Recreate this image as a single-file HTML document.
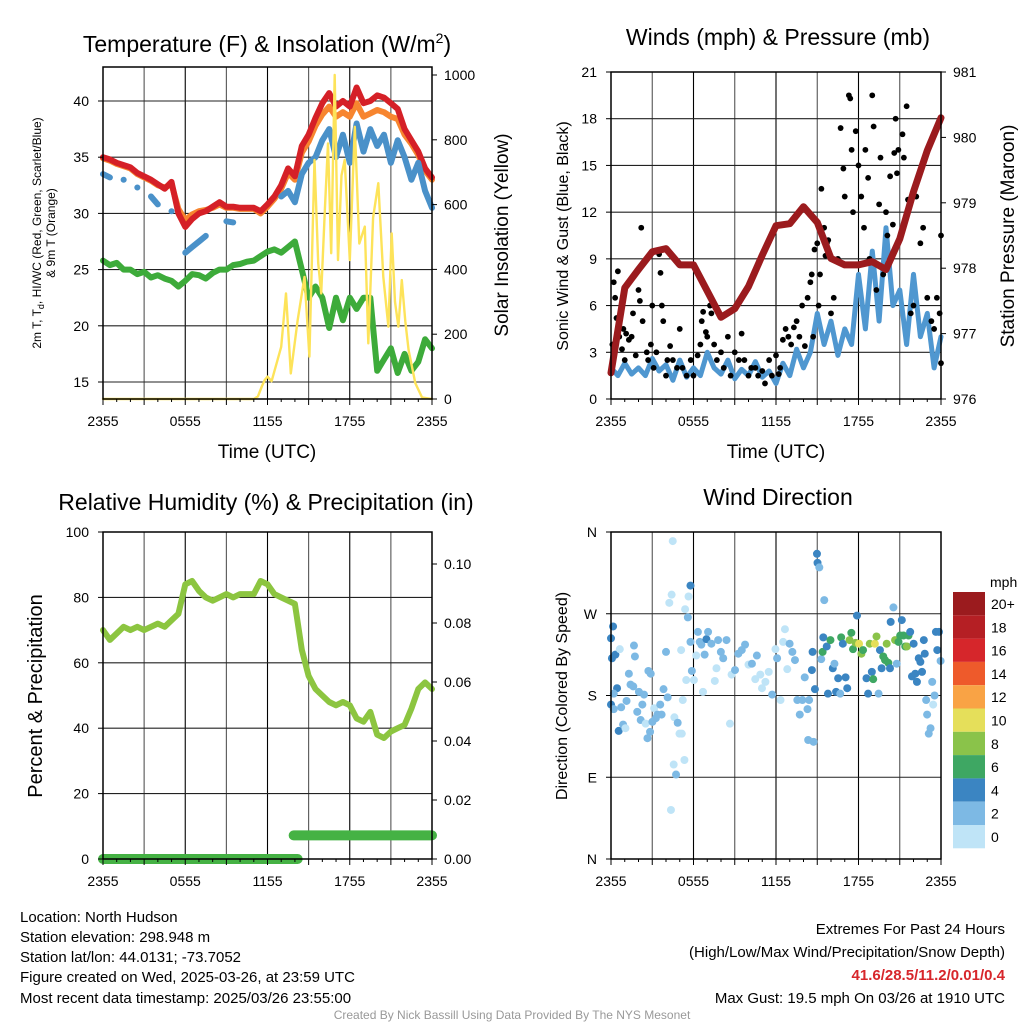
<!DOCTYPE html>
<html><head><meta charset="utf-8">
<style>
html,body{margin:0;padding:0;background:#fff;}
svg{display:block;font-family:"Liberation Sans",Arial,sans-serif;}
</style></head>
<body>
<svg id="chart" width="1024" height="1024" viewBox="0 0 1024 1024" xmlns="http://www.w3.org/2000/svg">
<rect x="0" y="0" width="1024" height="1024" fill="#fff"/>
<g id="layer-grid"></g>
<g id="layer-data"></g>
<g id="layer-axes"></g>

<text x="267" y="52" font-size="23" text-anchor="middle">Temperature (F) &amp; Insolation (W/m<tspan font-size="14" dy="-9">2</tspan><tspan dy="9">)</tspan></text>
<text x="778" y="45" font-size="23" text-anchor="middle">Winds (mph) &amp; Pressure (mb)</text>
<text x="266" y="510" font-size="23" text-anchor="middle">Relative Humidity (%) &amp; Precipitation (in)</text>
<text x="778" y="505" font-size="23" text-anchor="middle">Wind Direction</text>

<text transform="translate(41,233) rotate(-90)" font-size="12" text-anchor="middle">2m T, T<tspan font-size="9" dy="3">d</tspan><tspan dy="-3">, HI/WC (Red, Green, Scarlet/Blue)</tspan></text>
<text transform="translate(55,233) rotate(-90)" font-size="12" text-anchor="middle">&amp; 9m T (Orange)</text>
<text transform="translate(508,235) rotate(-90)" font-size="19" text-anchor="middle">Solar Insolation (Yellow)</text>
<text x="267" y="458" font-size="19" text-anchor="middle">Time (UTC)</text>
<text transform="translate(568,236) rotate(-90)" font-size="16" text-anchor="middle">Sonic Wind &amp; Gust (Blue, Black)</text>
<text transform="translate(1014,236) rotate(-90)" font-size="19" text-anchor="middle">Station Pressure (Maroon)</text>
<text x="776" y="458" font-size="19" text-anchor="middle">Time (UTC)</text>
<text transform="translate(42,696) rotate(-90)" font-size="20" text-anchor="middle">Percent &amp; Precipitation</text>
<text transform="translate(567,696) rotate(-90)" font-size="16" text-anchor="middle">Direction (Colored By Speed)</text>

<text x="990" y="587" font-size="14" text-anchor="start">mph</text>

<g font-size="15">
<text x="20" y="922">Location: North Hudson</text>
<text x="20" y="942">Station elevation: 298.948 m</text>
<text x="20" y="962">Station lat/lon: 44.0131; -73.7052</text>
<text x="20" y="982">Figure created on Wed, 2025-03-26, at 23:59 UTC</text>
<text x="20" y="1003">Most recent data timestamp: 2025/03/26 23:55:00</text>
</g>
<g font-size="15" text-anchor="end">
<text x="1005" y="934">Extremes For Past 24 Hours</text>
<text x="1005" y="957">(High/Low/Max Wind/Precipitation/Snow Depth)</text>
<text x="1005" y="980" fill="#d7262b" font-weight="bold">41.6/28.5/11.2/0.01/0.4</text>
<text x="1005" y="1003">Max Gust: 19.5 mph On 03/26 at 1910 UTC</text>
</g>
<text x="512" y="1019" font-size="12" fill="#999" text-anchor="middle">Created By Nick Bassill Using Data Provided By The NYS Mesonet</text>
</svg>

<script>
// ===== DATA =====
const halfHourTimes = [0,0.5,1,1.5,2,2.5,3,3.5,4,4.5,5,5.5,6,6.5,7,7.5,8,8.5,9,9.5,10,10.5,11,11.5,12,12.5,13,13.5,14,14.5,15,15.5,16,16.5,17,17.5,18,18.5,19,19.5,20,20.5,21,21.5,22,22.5,23,23.5,24];
const tempRed = [35.0,34.8,34.5,34.3,34.1,33.6,33.3,33.0,32.6,32.2,32.8,30.0,28.8,29.5,30.0,30.2,30.6,31.0,30.6,30.6,30.5,30.5,30.5,30.2,30.8,31.5,32.5,34.0,33.3,36.0,37.0,38.5,39.8,40.7,39.5,40.0,39.5,41.2,39.8,40.0,40.5,40.3,39.8,39.3,37.5,36.5,35.5,34.0,33.2];
const tempOrange = [34.9,34.7,34.4,34.2,34.0,33.5,33.2,32.9,32.5,32.3,32.6,30.4,29.4,29.9,30.2,30.3,30.5,30.8,30.5,30.5,30.4,30.4,30.4,30.0,30.6,31.3,32.2,33.6,33.0,35.4,36.4,37.8,38.8,39.5,38.6,39.0,38.6,39.8,38.6,38.9,39.2,39.0,38.6,38.4,37.0,36.2,35.2,33.8,33.0];
const tempBlue = [33.5,33.2,null,33.0,null,32.3,null,31.5,30.8,null,30.2,null,26.5,27.0,27.5,28.0,null,null,29.3,29.2,null,null,null,null,null,null,31.5,32.0,31.0,33.5,34.5,35.0,36.5,37.5,35.0,37.0,34.5,38.0,35.5,37.5,36.0,37.0,34.5,36.5,35.0,33.0,34.5,32.0,30.5];
const dewGreen = [25.8,25.4,25.6,25.0,25.0,24.6,24.8,24.3,24.5,24.2,24.0,23.5,24.0,24.6,24.5,24.2,24.7,25.0,25.0,25.4,25.5,25.7,25.8,26.2,26.6,26.8,26.5,27.0,27.5,25.0,22.5,23.5,22.5,19.8,22.5,20.5,22.5,21.5,22.5,22.5,16.0,17.0,18.0,15.8,17.5,16.0,16.8,18.8,18.0];
const solarTimes = [0,11.0,11.3,11.6,11.8,12.0,12.3,12.6,13.0,13.35,13.7,14.2,14.7,15.06,15.43,15.7,15.92,16.2,16.41,16.65,16.9,17.14,17.4,17.63,18.0,18.37,18.7,19.1,19.35,19.7,20.08,20.45,20.82,21.06,21.3,21.55,21.8,22.05,22.29,22.78,23.27,24];
const solarVals =  [0,0,8,40,59,69,55,100,161,326,79,244,377,131,738,420,326,600,789,450,1000,429,690,738,429,840,480,532,172,560,666,377,223,511,300,223,367,240,151,49,5,0];
const windHalfHour = [2.0,1.5,2.3,1.6,2.0,1.5,2.6,1.8,2.2,1.2,2.5,1.4,2.0,1.5,3.0,2.0,1.6,2.5,1.3,1.9,1.5,2.4,1.4,1.8,1.0,2.3,1.5,3.2,2.0,3.0,5.5,3.5,5.0,2.8,4.5,3.5,8.0,4.5,9.5,5.0,11.0,6.0,7.0,3.5,8.0,4.0,5.5,2.0,4.0];
const hourlyTimes = [0,1,2,3,4,5,6,7,8,9,10,11,12,13,14,15,16,17,18,19,20,21,22,23,24];
const pressureHourly = [976.4,977.7,977.98,978.25,978.3,978.05,978.05,977.65,977.25,977.38,977.72,978.2,978.65,978.68,978.94,978.7,978.15,978.05,978.05,978.1,977.98,978.45,979.17,979.8,980.3];
const gustTimes = [0.1,0.2,0.3,0.4,0.5,0.6,0.8,0.9,1.0,1.1,1.3,1.5,1.6,1.8,2.0,2.1,2.2,2.3,2.6,2.7,2.9,3.0,3.1,3.3,3.5,3.6,3.7,3.8,4.0,4.1,4.3,4.5,4.8,5.0,5.2,5.5,5.8,6.0,6.3,6.5,6.6,6.7,6.9,7.0,7.2,7.3,7.5,7.7,8.0,8.2,8.5,8.7,9.0,9.3,9.5,9.7,10.0,10.2,10.5,10.7,11.0,11.2,11.5,11.7,12.0,12.2,12.3,12.5,12.7,12.9,13.1,13.3,13.5,13.7,13.9,14.1,14.3,14.5,14.6,14.7,14.8,15.0,15.1,15.2,15.3,15.5,15.6,15.7,15.8,16.0,16.2,16.5,16.7,16.9,17.0,17.3,17.4,17.5,17.6,17.8,18.0,18.2,18.4,18.5,18.7,18.8,19.0,19.1,19.3,19.5,19.6,19.8,20.0,20.1,20.3,20.5,20.6,20.7,20.8,20.9,21.2,21.3,21.5,21.6,21.8,22.0,22.2,22.5,22.7,23.0,23.3,23.5,23.7,23.9,24.0,24.0];
const gustVals = [3.5,7.5,6.5,5.2,8.2,4.0,3.2,4.5,2.5,4.2,3.8,4.0,5.5,2.8,7.0,6.3,11.0,5.0,3.0,2.5,3.5,6.0,2.0,3.0,9.3,8.1,6.0,5.0,1.5,2.5,3.4,2.5,2.0,4.5,2.0,1.5,2.5,1.5,2.8,3.5,5.0,5.6,4.3,4.0,6.0,5.5,3.5,2.5,3.0,2.0,4.0,1.5,3.0,2.5,4.2,2.5,1.5,2.0,2.0,1.5,1.8,1.0,2.5,1.5,2.8,1.6,2.0,3.8,4.5,4.0,3.5,4.6,5.0,4.0,6.0,3.4,6.5,7.5,8.0,4.0,9.6,10.0,6.0,8.0,13.5,11.0,9.2,10.0,10.2,5.5,6.5,9.0,17.4,14.8,13.0,19.5,19.3,16.0,12.0,17.2,15.0,13.0,11.0,16.0,14.2,9.0,19.5,17.5,7.0,12.5,15.5,8.0,12.0,10.5,14.3,11.2,15.8,18.0,14.5,16.0,17.0,15.5,18.8,12.8,5.5,6.0,13.0,10.0,11.0,6.5,5.0,4.5,6.5,5.5,10.5,2.3];
const dirTimes = [0.15,0.0,0.07,0.32,0.64,0.44,0.2,0.0,0.2,0.74,0.56,0.88,1.05,1.13,1.3,1.42,1.62,1.67,1.74,1.91,2.03,2.16,2.28,2.4,2.52,2.65,2.72,2.84,2.89,3.01,3.14,3.26,3.38,3.58,3.68,3.82,4.0,4.12,4.24,4.36,4.41,4.49,4.56,4.61,4.73,4.85,4.98,5.1,5.15,5.22,5.34,5.39,5.47,5.64,5.59,5.78,5.78,5.88,6.03,6.2,6.32,6.45,6.57,6.69,6.81,6.94,7.06,7.3,7.55,7.67,7.79,7.99,8.16,8.4,8.65,8.77,9.02,9.26,9.51,9.75,10.0,10.25,10.49,10.61,10.86,10.98,11.23,11.47,11.72,11.96,12.08,12.33,12.52,12.65,12.82,12.99,13.19,13.38,13.55,13.73,13.92,14.09,14.29,14.41,14.34,14.61,14.73,14.66,14.83,14.98,15.02,15.15,15.29,15.39,15.44,15.51,15.69,15.78,15.96,16.13,16.25,16.37,16.52,16.67,16.74,16.86,17.06,17.18,17.35,17.48,17.6,17.79,17.89,18.04,18.21,18.33,18.58,18.7,18.82,18.97,19.07,19.19,19.31,19.46,19.56,19.68,19.8,19.93,20.05,20.17,20.29,20.34,20.54,20.66,20.78,20.91,21.03,21.15,21.27,21.4,21.52,21.64,21.76,21.89,22.01,22.13,22.25,22.38,22.5,22.62,22.75,22.82,22.92,22.99,23.11,23.24,23.36,23.43,23.53,23.63,23.73,23.85,23.97];
const dirDegs = [256,243,221,225,231,188,182,170,165,167,141,148,144,174,204,192,190,235,223,162,184,153,170,181,149,133,207,140,204,151,166,155,159,170,159,187,228,178,282,54,291,350,104,156,93,150,138,230,138,175,109,275,197,289,266,301,239,207,197,224,250,239,236,184,225,242,250,237,196,210,241,228,221,241,149,203,208,226,230,236,214,215,198,224,203,188,195,206,181,231,221,175,239,253,209,237,228,219,175,159,175,200,165,175,131,208,129,228,187,336,326,321,220,228,244,285,234,182,241,210,215,184,199,182,244,237,200,188,241,249,231,238,268,237,226,230,199,182,237,206,198,237,245,182,230,210,223,219,237,216,210,261,277,241,215,239,246,263,246,234,234,246,250,201,237,204,195,221,217,206,241,226,175,159,138,144,195,170,180,250,230,250,218];
const dirSpeeds = [5,5,5,5,1,5,3,5,3,3,5,3,1,3,3,3,3,3,3,3,3,3,3,3,1,3,3,3,3,3,1,3,3,3,3,3,3,3,1,1,1,1,1,1,3,3,1,1,1,1,1,1,1,1,3,5,3,3,1,1,3,3,3,1,3,5,3,3,1,1,3,3,3,3,1,1,3,3,3,3,1,3,1,3,1,1,1,1,3,1,3,1,1,1,1,3,3,3,3,3,3,3,3,3,3,5,3,5,5,5,5,3,3,7,5,3,5,5,7,5,3,5,5,3,7,5,5,5,9,7,7,9,5,11,9,7,5,5,9,5,7,11,9,3,5,5,7,7,9,7,5,5,3,9,3,7,7,5,7,7,9,7,5,5,5,5,5,5,5,5,5,5,3,3,3,3,3,1,3,5,5,5,3];
const rhHalfHour = [70,67,69,71,70,71,70,71,72,71,73,75,84,85,82,80,79,80,81,80,81,81,81,85,84,81,80,79,78,64,56,52,50,48,47,48,47,43,42,45,38,37,39,40,41,46,52,54,52];
const precipTimes = [0,14.2,14.2,24];
const precipVals = [0,0,0.008,0.008];
const timeTickHours = [0,6,12,18,24];
const timeTickLabels = ["2355","0555","1155","1755","2355"];
const tempTicks = [15,20,25,30,35,40];
const solarTicks = [0,200,400,600,800,1000];
const windTicks = [0,3,6,9,12,15,18,21];
const pressTicks = [976,977,978,979,980,981];
const rhTicks = [0,20,40,60,80,100];
const precipTicks = [0,0.02,0.04,0.06,0.08,0.10];
const dirTicks = [0,90,180,270,360];
const dirTickLabels = ["N","E","S","W","N"];
const cbLabels = ["20+","18","16","14","12","10","8","6","4","2","0"];
const cbColors = ["#9b1b1e","#b51f24","#d6262b","#ee5a2b","#f9a345","#e5df5a","#8ac34a","#3ea763","#3b85c2","#7db9e4","#bfe4f7"];

// ===== LAYOUT =====
const NS = "http://www.w3.org/2000/svg";
const gGrid = document.getElementById('layer-grid');
const gData = document.getElementById('layer-data');
const gAxes = document.getElementById('layer-axes');
function addEl(parent, tag, attrs){const e=document.createElementNS(NS,tag);for(const k in attrs)e.setAttribute(k,attrs[k]);parent.appendChild(e);return e;}

const P1={x0:103,x1:432,y0:67,y1:399};
const P2={x0:611,x1:941,y0:72,y1:399};
const P3={x0:103,x1:432,y0:532,y1:859};
const P4={x0:611,x1:941,y0:532,y1:859};
function xs(P,t){return P.x0+(t/24)*(P.x1-P.x0);}
const yTemp=v=>382-(v-15)*(382-101)/25;
const ySolar=v=>399-v*(399-75)/1000;
const yWind=v=>399-v*(399-72)/21;
const yPress=v=>399-(v-976)*(399-72)/5;
const yRH=v=>859-v*(859-532)/100;
const yPrecip=v=>859-v*(859-564)/0.1;
const yDir=v=>859-v*(859-532)/360;

function pathFrom(P,times,vals,yf){let d="",pen=false;for(let i=0;i<times.length;i++){const v=vals[i];if(v===null||v===undefined){pen=false;continue;}const x=xs(P,times[i]).toFixed(1),y=yf(v).toFixed(1);if(!pen){d+="M"+x+" "+y+" ";const nx=vals[i+1];if(nx===null||nx===undefined)d+="l0.1 0 ";pen=true;}else d+="L"+x+" "+y+" ";}return d;}

function frame(P,name){
  for(let h=3;h<24;h+=3){const l=addEl(gGrid,'line',{x1:xs(P,h),x2:xs(P,h),y1:P.y0,y2:P.y1,stroke:(h%6===0)?'#000':'#555','stroke-width':1.1});
    
    }
  const r=addEl(gAxes,'rect',{x:P.x0,y:P.y0,width:P.x1-P.x0,height:P.y1-P.y0,fill:'none',stroke:'#000','stroke-width':1.5});
  
  
  for(let h=0;h<=24;h+=1){const len=(h%3===0)?6:3;const l=addEl(gAxes,'line',{x1:xs(P,h),x2:xs(P,h),y1:P.y1,y2:P.y1+len,stroke:'#000','stroke-width':1});
    
    }
  for(let i=0;i<timeTickHours.length;i++){const t=addEl(gAxes,'text',{x:xs(P,timeTickHours[i]),y:P.y1+27,'font-size':14,'text-anchor':'middle'});t.textContent=timeTickLabels[i];
    
    }
}
function hgrid(P,ticks,yf,name){for(const v of ticks){const y=yf(v);if(y<P.y0-0.5||y>P.y1+0.5)continue;const l=addEl(gGrid,'line',{x1:P.x0,x2:P.x1,y1:y,y2:y,stroke:'#222','stroke-width':1.1});
  
  }}
function yLabels(P,ticks,labels,yf,side,name){for(let i=0;i<ticks.length;i++){const y=yf(ticks[i]);const x=side==='left'?P.x0-14:P.x1+12;
  const tk=addEl(gAxes,'line',{x1:side==='left'?P.x0-5:P.x1,x2:side==='left'?P.x0:P.x1+5,y1:y,y2:y,stroke:'#000','stroke-width':1});
  
  
  const t=addEl(gAxes,'text',{x:x,y:y+5,'font-size':14,'text-anchor':side==='left'?'end':'start'});t.textContent=labels[i];
  
  }}

frame(P1,'temperature');frame(P2,'winds');frame(P3,'humidity');frame(P4,'direction');
hgrid(P1,tempTicks,yTemp,'temperature');
hgrid(P2,windTicks,yWind,'winds');
hgrid(P3,rhTicks,yRH,'humidity');
hgrid(P4,dirTicks,yDir,'direction');
yLabels(P1,tempTicks,tempTicks.map(String),yTemp,'left','temperature-y');
yLabels(P1,solarTicks,solarTicks.map(String),ySolar,'right','solar-y');
yLabels(P2,windTicks,windTicks.map(String),yWind,'left','wind-y');
yLabels(P2,pressTicks,pressTicks.map(String),yPress,'right','pressure-y');
yLabels(P3,rhTicks,rhTicks.map(String),yRH,'left','humidity-y');
yLabels(P3,precipTicks,precipTicks.map(v=>v.toFixed(2)),yPrecip,'right','precip-y');
yLabels(P4,dirTicks,dirTickLabels,yDir,'left','direction-y');

function line(P,times,vals,yf,color,w){const p=addEl(gData,'path',{d:pathFrom(P,times,vals,yf),fill:'none',stroke:color,'stroke-width':w,'stroke-linejoin':'round','stroke-linecap':'round'});return p;}
let s;
s=line(P1,halfHourTimes,dewGreen,yTemp,'#3dab3a',6);


s=line(P1,halfHourTimes,tempOrange,yTemp,'#f7852f',6);


s=line(P1,halfHourTimes,tempRed,yTemp,'#d52027',6);


s=line(P1,halfHourTimes,tempBlue,yTemp,'#4a91c9',6);


s=line(P1,solarTimes,solarVals,ySolar,'#fde35a',2.4);



s=line(P2,halfHourTimes,windHalfHour,yWind,'#4f97d0',5);


for(let i=0;i<gustTimes.length;i++){const c=addEl(gData,'circle',{cx:xs(P2,gustTimes[i]),cy:yWind(gustVals[i]),r:2.9,fill:'#000'});
  
  }
s=line(P2,hourlyTimes,pressureHourly,yPress,'#9b1b1e',7);



s=line(P3,halfHourTimes,rhHalfHour,yRH,'#8cc540',6);


for(let i=0;i<precipTimes.length;i+=2){const p=addEl(gData,'line',{x1:xs(P3,precipTimes[i])+(i?-4:0),x2:xs(P3,precipTimes[i+1]),y1:yPrecip(precipVals[i]),y2:yPrecip(precipVals[i+1]),stroke:'#45b244','stroke-width':10,'stroke-linecap':'round'});
  
  }

function speedColor(v){let idx=Math.min(10,Math.floor(v/2));return cbColors[10-idx];}
for(let i=0;i<dirTimes.length;i++){const c=addEl(gData,'circle',{cx:xs(P4,dirTimes[i]),cy:yDir(dirDegs[i]),r:4,fill:speedColor(dirSpeeds[i])});
  
  }

const cbX=953,cbY=592,cbW=32,cbH=23.3;
for(let i=0;i<cbColors.length;i++){const r=addEl(gAxes,'rect',{x:cbX,y:cbY+i*cbH,width:cbW,height:cbH,fill:cbColors[i]});
  
  
  const t=addEl(gAxes,'text',{x:cbX+38,y:cbY+i*cbH+17,'font-size':14});t.textContent=cbLabels[i];
  
  }
</script>
</body></html>
